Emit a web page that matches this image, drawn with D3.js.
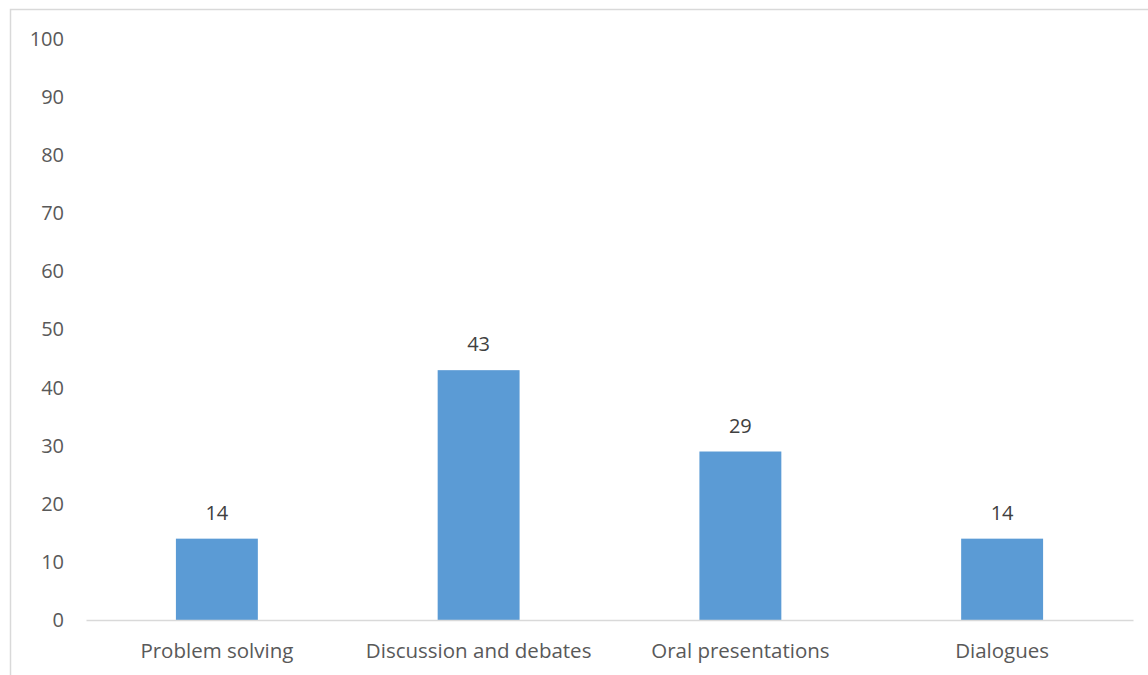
<!DOCTYPE html>
<html><head><meta charset="utf-8">
<script src="https://cdn.jsdelivr.net/npm/d3@7"></script>
<style>body{margin:0;background:#fff}svg{display:block}</style>
</head><body>
<svg id="c" width="1148" height="675"></svg>
<script>
const categories = ["Problem solving","Discussion and debates","Oral presentations","Dialogues"];
const values = [14,43,29,14];
const yTicks = [0,10,20,30,40,50,60,70,80,90,100];

const svg = d3.select("#c");
const font = "'Open Sans', sans-serif";
svg.append("rect").attr("x",10.5).attr("y",9.5).attr("width",1160).attr("height",700)
  .attr("fill","none").attr("stroke","#d9d9d9").attr("stroke-width",1.5);

const x = d3.scaleBand().domain(categories).range([86,1133]).padding(0);
const y = d3.scaleLinear().domain([0,100]).range([620,39]);
const barW = x.bandwidth()*0.313;

const yAxis = svg.append("g").attr("transform","translate(64,0)")
  .call(d3.axisLeft(y).tickValues(yTicks).tickSize(0).tickPadding(0));
yAxis.select(".domain").remove();
yAxis.selectAll("text").attr("font-family",font).attr("font-size",20).attr("fill","#595959");

svg.selectAll("rect.bar").data(values).join("rect").attr("class","bar")
  .attr("x",(d,i)=>x(categories[i])+x.bandwidth()/2-barW/2)
  .attr("width",barW)
  .attr("y",d=>y(d)).attr("height",d=>y(0)-y(d)).attr("fill","#5b9bd5");

const xAxis = svg.append("g").attr("transform",`translate(0,${y(0)})`)
  .call(d3.axisBottom(x).tickSize(0).tickPadding(23));
xAxis.select(".domain").attr("stroke","#d9d9d9").attr("stroke-width",1.5);
xAxis.selectAll("text").attr("font-family",font).attr("font-size",20.5).attr("fill","#595959");

svg.selectAll("text.lbl").data(values).join("text").attr("class","lbl")
  .attr("x",(d,i)=>x(categories[i])+x.bandwidth()/2)
  .attr("y",d=>y(d)-19).attr("text-anchor","middle")
  .attr("font-family",font).attr("font-size",20).attr("fill","#404040").text(d=>d);
</script>
</body></html>
